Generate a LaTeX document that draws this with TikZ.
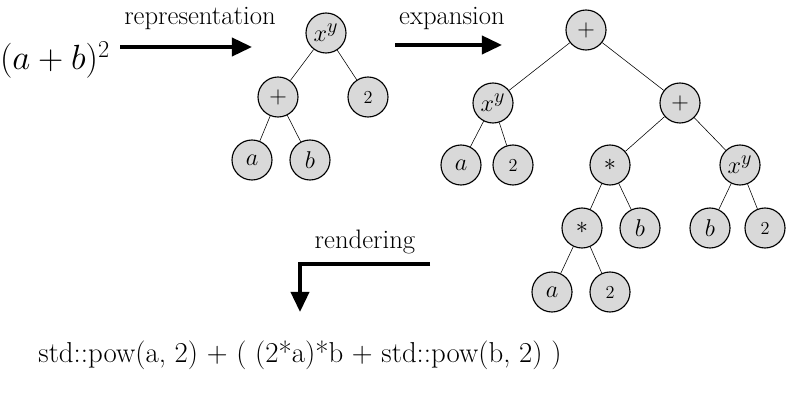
\documentclass[tikz,border=0pt]{standalone}
\usetikzlibrary{arrows.meta}
\tikzset{
  tnode/.style={circle, draw=black, thick, fill=black!15, minimum size=1cm, inner sep=0pt, font=\fontsize{19}{22}\selectfont},
  edge/.style={thin},
  bigarrow/.style={line width=2.6pt, -{Triangle[length=5mm,width=4.5mm]}},
  lbl/.style={font=\fontsize{19}{22}\selectfont}
}
\newcommand{\two}{{\fontsize{13}{15}\selectfont 2}}
\begin{document}
\begin{tikzpicture}[x=0.025cm, y=-0.025cm]
\useasboundingbox (0,0) rectangle (790,406);

% first tree
\node (r1) [tnode] at (326,33) {$x^y$};
\node (p1) [tnode] at (278,97) {$+$};
\node (t1) [tnode] at (368,97) {\two};
\node (a1) [tnode] at (252,160) {$a$};
\node (b1) [tnode] at (310,160) {$b$};

% second tree
\node (r2) [tnode] at (586,30) {$+$};
\node (x2) [tnode] at (493,103) {$x^y$};
\node (p2) [tnode] at (680,103) {$+$};
\node (a2) [tnode] at (461,165) {$a$};
\node (t2) [tnode] at (513,165) {\two};
\node (m2) [tnode] at (610,165) {$*$};
\node (x3) [tnode] at (740,165) {$x^y$};
\node (m3) [tnode] at (582,228) {$*$};
\node (b2) [tnode] at (640,228) {$b$};
\node (b3) [tnode] at (710,228) {$b$};
\node (t3) [tnode] at (765,228) {\two};
\node (a3) [tnode] at (552,292) {$a$};
\node (t4) [tnode] at (610,292) {\two};

\draw [edge] (r1) -- (p1);
\draw [edge] (r1) -- (t1);
\draw [edge] (p1) -- (a1);
\draw [edge] (p1) -- (b1);
\draw [edge] (r2) -- (x2);
\draw [edge] (r2) -- (p2);
\draw [edge] (x2) -- (a2);
\draw [edge] (x2) -- (t2);
\draw [edge] (p2) -- (m2);
\draw [edge] (p2) -- (x3);
\draw [edge] (m2) -- (m3);
\draw [edge] (m2) -- (b2);
\draw [edge] (x3) -- (b3);
\draw [edge] (x3) -- (t3);
\draw [edge] (m3) -- (a3);
\draw [edge] (m3) -- (t4);

% texts and arrows
\node (expr) [font=\fontsize{23}{26}\selectfont] at (55,60) {$(a+b)^2$};
\node (rep) [lbl] at (200,18) {representation};
\node (exp) [lbl] at (452,18) {expansion};
\node (ren) [lbl] at (365,242) {rendering};
\coordinate (s1) at (120,47);
\coordinate (e1) at (252,47);
\coordinate (s2) at (395,45);
\coordinate (e2) at (502,45);
\coordinate (s3) at (430,264);
\coordinate (c3) at (300,264);
\coordinate (e3) at (300,312);
\draw [bigarrow] (s1) -- (e1);
\draw [bigarrow] (s2) -- (e2);
\draw [bigarrow] (s3) -- (c3) -- (e3);
\node (code) [font=\fontsize{20.5}{24}\selectfont] at (300,355) {std::pow(a, 2) + ( (2*a)*b + std::pow(b, 2) )};
\end{tikzpicture}
\end{document}
